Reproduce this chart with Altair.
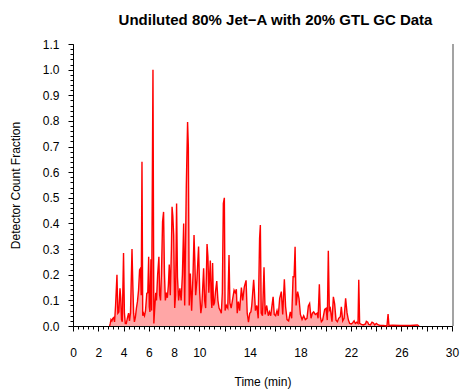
import altair as alt
import pandas as pd

title_text = "Undiluted 80% Jet\u2212A with 20% GTL GC Data"
x_title = "Time (min)"
y_title = "Detector Count Fraction"

time_min = [
    2.90, 2.95, 3.01, 3.08, 3.15, 3.22, 3.29, 3.37, 3.48, 3.55, 3.63, 3.72, 3.78, 3.84, 3.90,
    4.00, 4.07, 4.14, 4.22, 4.30, 4.40, 4.47, 4.55, 4.67, 4.74, 4.80, 4.86, 4.94, 5.02, 5.10,
    5.19, 5.27, 5.34, 5.40, 5.46, 5.52, 5.58, 5.66, 5.74, 5.84, 5.92, 5.99, 6.04, 6.09, 6.17,
    6.22, 6.33, 6.40, 6.47, 6.55, 6.61, 6.70, 6.80, 6.86, 6.93, 7.00, 7.09, 7.17, 7.24, 7.31,
    7.40, 7.47, 7.55, 7.62, 7.70, 7.79, 7.84, 7.90, 7.97, 8.05, 8.12, 8.20, 8.27, 8.36, 8.46,
    8.56, 8.66, 8.76, 8.84, 8.97, 9.07, 9.13, 9.20, 9.29, 9.39, 9.50, 9.58, 9.64, 9.71, 9.81,
    9.94, 10.03, 10.12, 10.20, 10.34, 10.42, 10.50, 10.61, 10.68, 10.75, 10.87, 10.94, 10.99, 11.05, 11.12,
    11.20, 11.28, 11.38, 11.47, 11.56, 11.66, 11.74, 11.82, 11.90, 11.98, 12.04, 12.14, 12.25, 12.35, 12.42,
    12.52, 12.62, 12.75, 12.84, 12.93, 13.00, 13.09, 13.19, 13.33, 13.43, 13.56, 13.70, 13.79, 13.89, 13.99,
    14.08, 14.15, 14.30, 14.36, 14.44, 14.55, 14.66, 14.77, 14.83, 14.90, 15.00, 15.12, 15.21, 15.33, 15.46,
    15.55, 15.65, 15.84, 15.93, 16.04, 16.15, 16.25, 16.36, 16.49, 16.60, 16.73, 16.83, 16.94, 17.07, 17.20,
    17.31, 17.42, 17.50, 17.58, 17.66, 17.78, 17.89, 18.00, 18.13, 18.26, 18.39, 18.52, 18.63, 18.73, 18.84,
    18.95, 19.05, 19.18, 19.32, 19.40, 19.50, 19.58, 19.66, 19.76, 19.92, 20.03, 20.13, 20.21, 20.29, 20.37,
    20.50, 20.61, 20.71, 20.82, 20.93, 21.03, 21.16, 21.24, 21.35, 21.46, 21.58, 21.69, 21.80, 21.90, 22.03,
    22.14, 22.25, 22.35, 22.46, 22.56, 22.62, 22.69, 22.83, 22.98, 23.15, 23.22, 23.33, 23.41, 23.54, 23.67,
    23.78, 23.88, 24.01, 24.17, 24.33, 24.57, 24.85, 24.94, 25.01, 25.30, 25.90, 26.70, 27.26, 27.40,
]

count_fraction = [
    0.0, 0.01, 0.025, 0.02, 0.03, 0.033, 0.016, 0.08, 0.20, 0.05, 0.055, 0.147, 0.108, 0.025, 0.017,
    0.285, 0.05, 0.01, 0.01, 0.03, 0.05, 0.02, 0.05, 0.30, 0.153, 0.05, 0.016, 0.035, 0.07, 0.095,
    0.14, 0.219, 0.225, 0.12, 0.641, 0.04, 0.05, 0.04, 0.06, 0.127, 0.13, 0.27, 0.075, 0.055, 0.26,
    0.06, 1.0, 0.01, 0.07, 0.13, 0.10, 0.20, 0.27, 0.12, 0.10, 0.20, 0.407, 0.445, 0.205, 0.10,
    0.13, 0.11, 0.16, 0.24, 0.12, 0.30, 0.465, 0.43, 0.355, 0.07, 0.12, 0.478, 0.19, 0.10, 0.147,
    0.10, 0.20, 0.40, 0.08, 0.55, 0.796, 0.70, 0.08, 0.205, 0.06, 0.20, 0.355, 0.26, 0.12, 0.18,
    0.31, 0.13, 0.05, 0.08, 0.225, 0.10, 0.07, 0.32, 0.27, 0.13, 0.255, 0.11, 0.07, 0.246, 0.08,
    0.09, 0.134, 0.175, 0.10, 0.07, 0.06, 0.05, 0.13, 0.478, 0.50, 0.06, 0.08, 0.07, 0.277, 0.09,
    0.07, 0.10, 0.14, 0.13, 0.143, 0.05, 0.095, 0.06, 0.15, 0.10, 0.153, 0.178, 0.05, 0.015, 0.05,
    0.055, 0.08, 0.18, 0.134, 0.06, 0.08, 0.03, 0.342, 0.394, 0.05, 0.04, 0.229, 0.045, 0.08, 0.04,
    0.055, 0.04, 0.114, 0.045, 0.04, 0.06, 0.04, 0.108, 0.134, 0.045, 0.182, 0.075, 0.025, 0.02, 0.055,
    0.03, 0.192, 0.192, 0.309, 0.08, 0.134, 0.108, 0.045, 0.025, 0.04, 0.025, 0.03, 0.078, 0.088, 0.03,
    0.05, 0.055, 0.045, 0.05, 0.03, 0.163, 0.036, 0.017, 0.023, 0.065, 0.069, 0.023, 0.293, 0.062, 0.069,
    0.017, 0.114, 0.086, 0.023, 0.017, 0.03, 0.036, 0.075, 0.02, 0.03, 0.108, 0.052, 0.023, 0.01, 0.008,
    0.013, 0.02, 0.01, 0.015, 0.01, 0.18, 0.01, 0.006, 0.004, 0.008, 0.018, 0.015, 0.006, 0.004, 0.015,
    0.012, 0.004, 0.01, 0.004, 0.002, 0.002, 0.0, 0.047, 0.002, 0.003, 0.002, 0.002, 0.004, 0.0,
]

x_major = [0, 2, 4, 6, 8, 10, 12, 14, 16, 18, 20, 22, 24, 26, 28, 30]
x_labeled = [0, 2, 4, 6, 8, 10, 14, 18, 22, 26, 30]
x_minor = [round(i * 0.4, 1) for i in range(76)]
y_major = [0.0, 0.1, 0.2, 0.3, 0.4, 0.5, 0.6, 0.7, 0.8, 0.9, 1.0, 1.1]
y_minor = [round(i * 0.02, 2) for i in range(56)]

df = pd.DataFrame({"t": time_min, "v": count_fraction})

W, H = 379, 282
FONT = "Liberation Sans"
xscale = alt.Scale(domain=[0, 30], nice=False, zero=False)
yscale = alt.Scale(domain=[0, 1.1], nice=False, zero=False)

label_test = " || ".join(f"datum.value == {v}" for v in x_labeled)

area = alt.Chart(df).mark_area(
    color="#ff8080",
    interpolate="linear",
    line={"color": "#ff0000", "strokeWidth": 1.4},
).encode(
    x=alt.X("t:Q", scale=xscale, title=x_title,
            axis=alt.Axis(values=x_major, labelExpr=f"({label_test}) ? datum.label : ''",
                          tickSize=5, labelPadding=16, titlePadding=18, grid=False,
                          orient="bottom", labelFontSize=12, titleFontSize=12,
                          labelFont=FONT, titleFont=FONT, titleFontWeight="normal",
                          domainColor="#000", tickColor="#000", labelColor="#000",
                          titleColor="#000", labelFlush=False, labelOverlap=False)),
    y=alt.Y("v:Q", scale=yscale, title=y_title,
            axis=alt.Axis(values=y_major, format=".1f", tickSize=5, labelPadding=9,
                          titlePadding=20, grid=False, orient="left", labelFontSize=12,
                          titleFontSize=12, labelFont=FONT, titleFont=FONT,
                          titleFontWeight="normal", domainColor="#000", tickColor="#000",
                          labelColor="#000", titleColor="#000", labelFlush=False,
                          labelOverlap=False)),
)

minor = alt.Chart(df).mark_point(opacity=0).encode(
    x=alt.X("t:Q", scale=xscale, title=None,
            axis=alt.Axis(values=x_minor, labels=False, tickSize=3, domain=False,
                          grid=False, orient="bottom", tickColor="#000")),
    y=alt.Y("v:Q", scale=yscale, title=None,
            axis=alt.Axis(values=y_minor, labels=False, tickSize=3, domain=False,
                          grid=False, orient="left", tickColor="#000")),
)

border = alt.Chart(pd.DataFrame({"a": [0]})).mark_rule(color="#666666", strokeWidth=1.2).encode(
    x=alt.value(W + 1), y=alt.value(0), y2=alt.value(H)
)

chart = alt.layer(minor, area, border).resolve_scale(
    x="independent", y="independent"
).properties(
    width=W, height=H,
    title=alt.TitleParams(title_text, font=FONT, fontSize=15, fontWeight="bold",
                          color="#000", anchor="middle", offset=10, dx=13),
    autosize=alt.AutoSizeParams(type="none"),
    padding={"left": 73, "top": 44, "right": 10, "bottom": 64},
).configure_view(stroke=None)

chart.save("out.html", embed_options={"renderer": "svg", "actions": False})
